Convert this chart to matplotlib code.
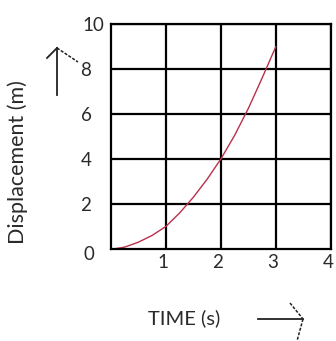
import matplotlib
matplotlib.use("Agg")
import matplotlib.pyplot as plt
import matplotlib.transforms as mtransforms
from matplotlib.lines import Line2D

plt.rcParams['font.family'] = ['Lato', 'DejaVu Sans']

# time (s) and displacement (m)
time_s = [0.05, 0.25, 0.5, 0.75, 1.0, 1.25, 1.5, 1.75, 2.0, 2.25, 2.5, 2.75, 3.0]
disp_m = [0.0, 0.08, 0.3, 0.6, 1.0, 1.6, 2.3, 3.1, 4.0, 5.05, 6.25, 7.6, 9.0]

x_ticks = [1, 2, 3, 4]
y_ticks = [2, 4, 6, 8, 10]

fig = plt.figure(figsize=(3.36, 3.41), dpi=100)
ax = fig.add_axes([0.330, 0.270, 0.655, 0.660])

ax.plot(time_s, disp_m, color='#b8304a', lw=1.0, solid_capstyle='round')

ax.set_xlim(0, 4)
ax.set_ylim(0, 10)
ax.set_xticks(x_ticks)
ax.set_yticks(y_ticks)
ax.set_xticklabels([str(v) for v in x_ticks])
ax.set_yticklabels([str(v) for v in y_ticks])
ax.grid(True, color='black', lw=1.6)
ax.tick_params(length=0, labelsize=13.5, colors='#2a2a2a')
ax.tick_params(axis='y', pad=14)
ax.tick_params(axis='x', pad=4)
for s in ax.spines.values():
    s.set_linewidth(1.6)
    s.set_color('black')

# the "10" sits further right than the others
lbls = ax.get_yticklabels()
lbls[-1].set_transform(lbls[-1].get_transform() +
                       mtransforms.ScaledTranslation(13 / 100, 0, fig.dpi_scale_trans))
# x tick labels sit a little left of the grid lines
for t in ax.get_xticklabels():
    t.set_transform(t.get_transform() +
                    mtransforms.ScaledTranslation(-3 / 100, 0, fig.dpi_scale_trans))

ax.text(-0.4, -0.25, '0', fontsize=13.5, color='#2a2a2a',
        ha='center', va='center')

fig.text(18 / 336, 1 - 162 / 341, 'Displacement (m)', rotation=90,
         fontsize=15.5, color='#2a2a2a', ha='center', va='center')
fig.text(184 / 336, 1 - 318 / 341, 'TIME (s)', fontsize=14.5,
         color='#2a2a2a', ha='center', va='center')

def px_line(xs, ys, lw=1.3, ls='-'):
    fig.add_artist(Line2D([x / 336 for x in xs], [1 - y / 341 for y in ys],
                          transform=fig.transFigure, color='#222222', lw=lw, ls=ls))

# hand drawn arrows beside the axes
px_line([57, 57], [95, 48])
px_line([47, 57], [58, 48])
px_line([57, 78], [48, 62], lw=1.1, ls=(0, (2, 1)))
px_line([258, 303], [319, 319])
px_line([290, 303], [303, 319], lw=1.1, ls=(0, (2, 1)))
px_line([303, 297], [319, 341], lw=1.1, ls=(0, (2, 1)))

fig.savefig('out.png', dpi=100)
